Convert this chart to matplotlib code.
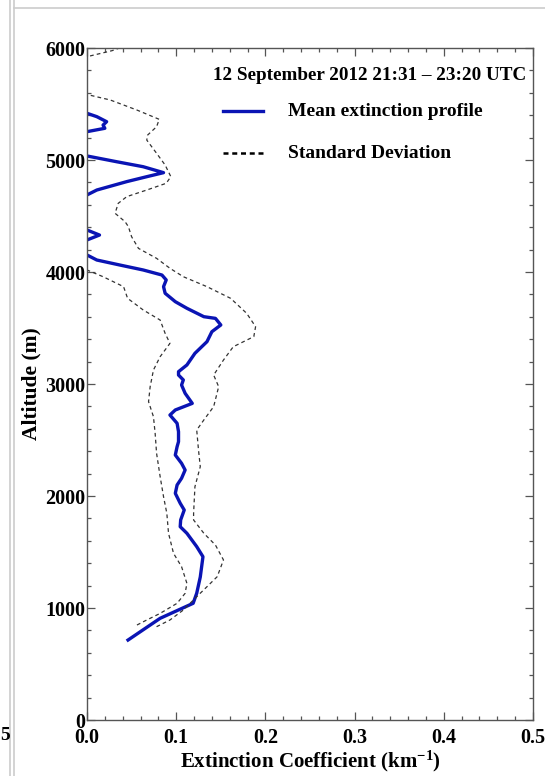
import numpy as np
import matplotlib
matplotlib.use("Agg")
import matplotlib.pyplot as plt
from matplotlib.lines import Line2D
from matplotlib.ticker import MultipleLocator, FormatStrFormatter

# mean extinction profile (km^-1) vs altitude (m); NaN = gaps where profile is ~0
mean_ext = [0.046, 0.082, 0.119, 0.123, 0.127, 0.130, 0.123, 0.112, 0.1045, 0.105,
            0.109, 0.1045, 0.099, 0.101, 0.106, 0.110, 0.106, 0.099, 0.101, 0.1026,
            0.1026, 0.101, 0.093, 0.099, 0.118, 0.110, 0.106, 0.108, 0.1026, 0.1026,
            0.112, 0.121, 0.1345, 0.140, 0.150, 0.144, 0.131, 0.112, 0.099, 0.0876,
            0.0858, 0.0888, 0.084, 0.063, 0.037, 0.011, 0.0,
            np.nan,
            0.0, 0.014, 0.0,
            np.nan,
            0.0, 0.011, 0.0446, 0.067, 0.0858, 0.063, 0.033, 0.0,
            np.nan,
            0.0, 0.020, 0.018, 0.022, 0.011, 0.0]
mean_alt = [714, 908, 1042, 1132, 1277, 1458, 1548, 1667, 1726, 1786,
            1875, 1935, 2024, 2098, 2158, 2232, 2292, 2366, 2440, 2485,
            2574, 2649, 2723, 2768, 2827, 2917, 2991, 3036, 3080, 3110,
            3170, 3274, 3378, 3467, 3527, 3586, 3601, 3676, 3735, 3810,
            3869, 3929, 3973, 4018, 4062, 4107, 4152,
            4200,
            4286, 4330, 4375,
            4500,
            4688, 4732, 4807, 4851, 4887, 4940, 4985, 5036,
            5150,
            5253, 5283, 5312, 5342, 5387, 5417]

# mean + standard deviation
upper_ext = [0.078, 0.093, 0.108, 0.123, 0.1345, 0.146, 0.153, 0.144, 0.131, 0.1195,
             0.1195, 0.121, 0.127, 0.125, 0.123, 0.131, 0.142, 0.1476, 0.142, 0.153,
             0.164, 0.187, 0.189, 0.179, 0.161, 0.1345, 0.108, 0.093, 0.078, 0.0577,
             0.050, 0.0464, 0.0427, 0.0315, 0.035, 0.0446, 0.067, 0.0888, 0.094, 0.0876,
             0.078, 0.067, 0.068, 0.078, 0.081, 0.056, 0.026, 0.0026,
             np.nan,
             0.0034, 0.028, 0.040]
upper_alt = [833, 893, 982, 1101, 1190, 1280, 1429, 1562, 1667, 1786,
             1845, 2083, 2262, 2411, 2589, 2679, 2798, 2976, 3080, 3214,
             3333, 3423, 3512, 3631, 3765, 3869, 3958, 4033, 4122, 4211,
             4315, 4405, 4449, 4524, 4613, 4673, 4732, 4792, 4851, 4955,
             5060, 5178, 5223, 5297, 5363, 5446, 5536, 5580,
             5750,
             5929, 5976, 6010]

# mean - standard deviation
lower_ext = [0.056, 0.067, 0.082, 0.101, 0.110, 0.112, 0.106, 0.097, 0.0914, 0.0895,
             0.0858, 0.082, 0.078, 0.0764, 0.0745, 0.069, 0.0708, 0.0745, 0.082, 0.093,
             0.0876, 0.082, 0.063, 0.0455, 0.041, 0.018, 0.0]
lower_alt = [848, 893, 952, 1042, 1131, 1220, 1369, 1488, 1667, 1845,
             1994, 2173, 2381, 2559, 2708, 2842, 2976, 3125, 3244, 3363,
             3452, 3571, 3661, 3765, 3869, 3958, 4018]

title = "12 September 2012 21:31 \u2013 23:20 UTC"
serif = ["Liberation Serif", "DejaVu Serif"]
plt.rcParams["font.family"] = serif
plt.rcParams["font.weight"] = "bold"
plt.rcParams["mathtext.fontset"] = "custom"
plt.rcParams["mathtext.rm"] = "Liberation Serif:bold"
plt.rcParams["mathtext.default"] = "rm"

fig = plt.figure(figsize=(5.45, 7.76), dpi=100)
ax = fig.add_axes([87 / 545, 56 / 776, 446 / 545, 672 / 776])

blue = "#0a14b4"
ax.plot(mean_ext, mean_alt, color=blue, lw=2.4, solid_joinstyle="round")
ax.plot(upper_ext, upper_alt, color="#333333", lw=0.9, ls=(0, (3, 2.5)))
ax.plot(lower_ext, lower_alt, color="#333333", lw=0.9, ls=(0, (3, 2.5)))

ax.set_xlim(0, 0.5)
ax.set_ylim(0, 6000)
ax.xaxis.set_major_locator(MultipleLocator(0.1))
ax.xaxis.set_minor_locator(MultipleLocator(0.02))
ax.xaxis.set_major_formatter(FormatStrFormatter("%.1f"))
ax.yaxis.set_major_locator(MultipleLocator(1000))
ax.yaxis.set_minor_locator(MultipleLocator(200))
ax.tick_params(which="both", direction="in", top=True, right=True,
               color="#555555", width=0.9)
ax.tick_params(which="major", length=6, labelsize=14.5, pad=1)
ax.tick_params(axis="x", which="major", pad=5.5)
ax.tick_params(which="minor", length=3)
for lab in ax.get_xticklabels() + ax.get_yticklabels():
    lab.set_fontweight("bold")
for s in ax.spines.values():
    s.set_color("#555555")
    s.set_linewidth(1.0)

ax.set_xlabel("Extinction Coefficient (km$^{-1}$)", fontsize=15, fontweight="bold", labelpad=1)
ax.set_ylabel("Altitude (m)", fontsize=15.5, fontweight="bold", labelpad=3)

# legend drawn as annotations, like the original
ax.text(0.985, 0.972, title, transform=ax.transAxes, ha="right", va="top",
        fontsize=13.8, fontweight="bold")
lx = [(223 - 87) / 446, (263 - 87) / 446]
ax.add_line(Line2D(lx, [(720 - 111) / 672] * 2, transform=ax.transAxes, color=blue, lw=2.4))
ax.add_line(Line2D(lx, [(720 - 153) / 672] * 2, transform=ax.transAxes, color="black",
                   lw=1.8, ls=(0, (2, 1.5))))
ax.text((288 - 87) / 446, (720 - 111) / 672, "Mean extinction profile", transform=ax.transAxes,
        ha="left", va="center", fontsize=14, fontweight="bold")
ax.text((288 - 87) / 446, (720 - 153) / 672, "Standard Deviation", transform=ax.transAxes,
        ha="left", va="center", fontsize=14, fontweight="bold")

# frame of the surrounding screenshot
for xp in (9.5, 14):
    fig.add_artist(Line2D([xp / 545] * 2, [0, 1], color="#cccccc", lw=1.2))
fig.add_artist(Line2D([14 / 545, 1], [1 - 8 / 776] * 2, color="#cccccc", lw=1.2))
fig.text(0, 1 - 735 / 776, "5", fontsize=14, fontweight="bold", va="center", ha="left")

fig.savefig("out.png", dpi=100)
